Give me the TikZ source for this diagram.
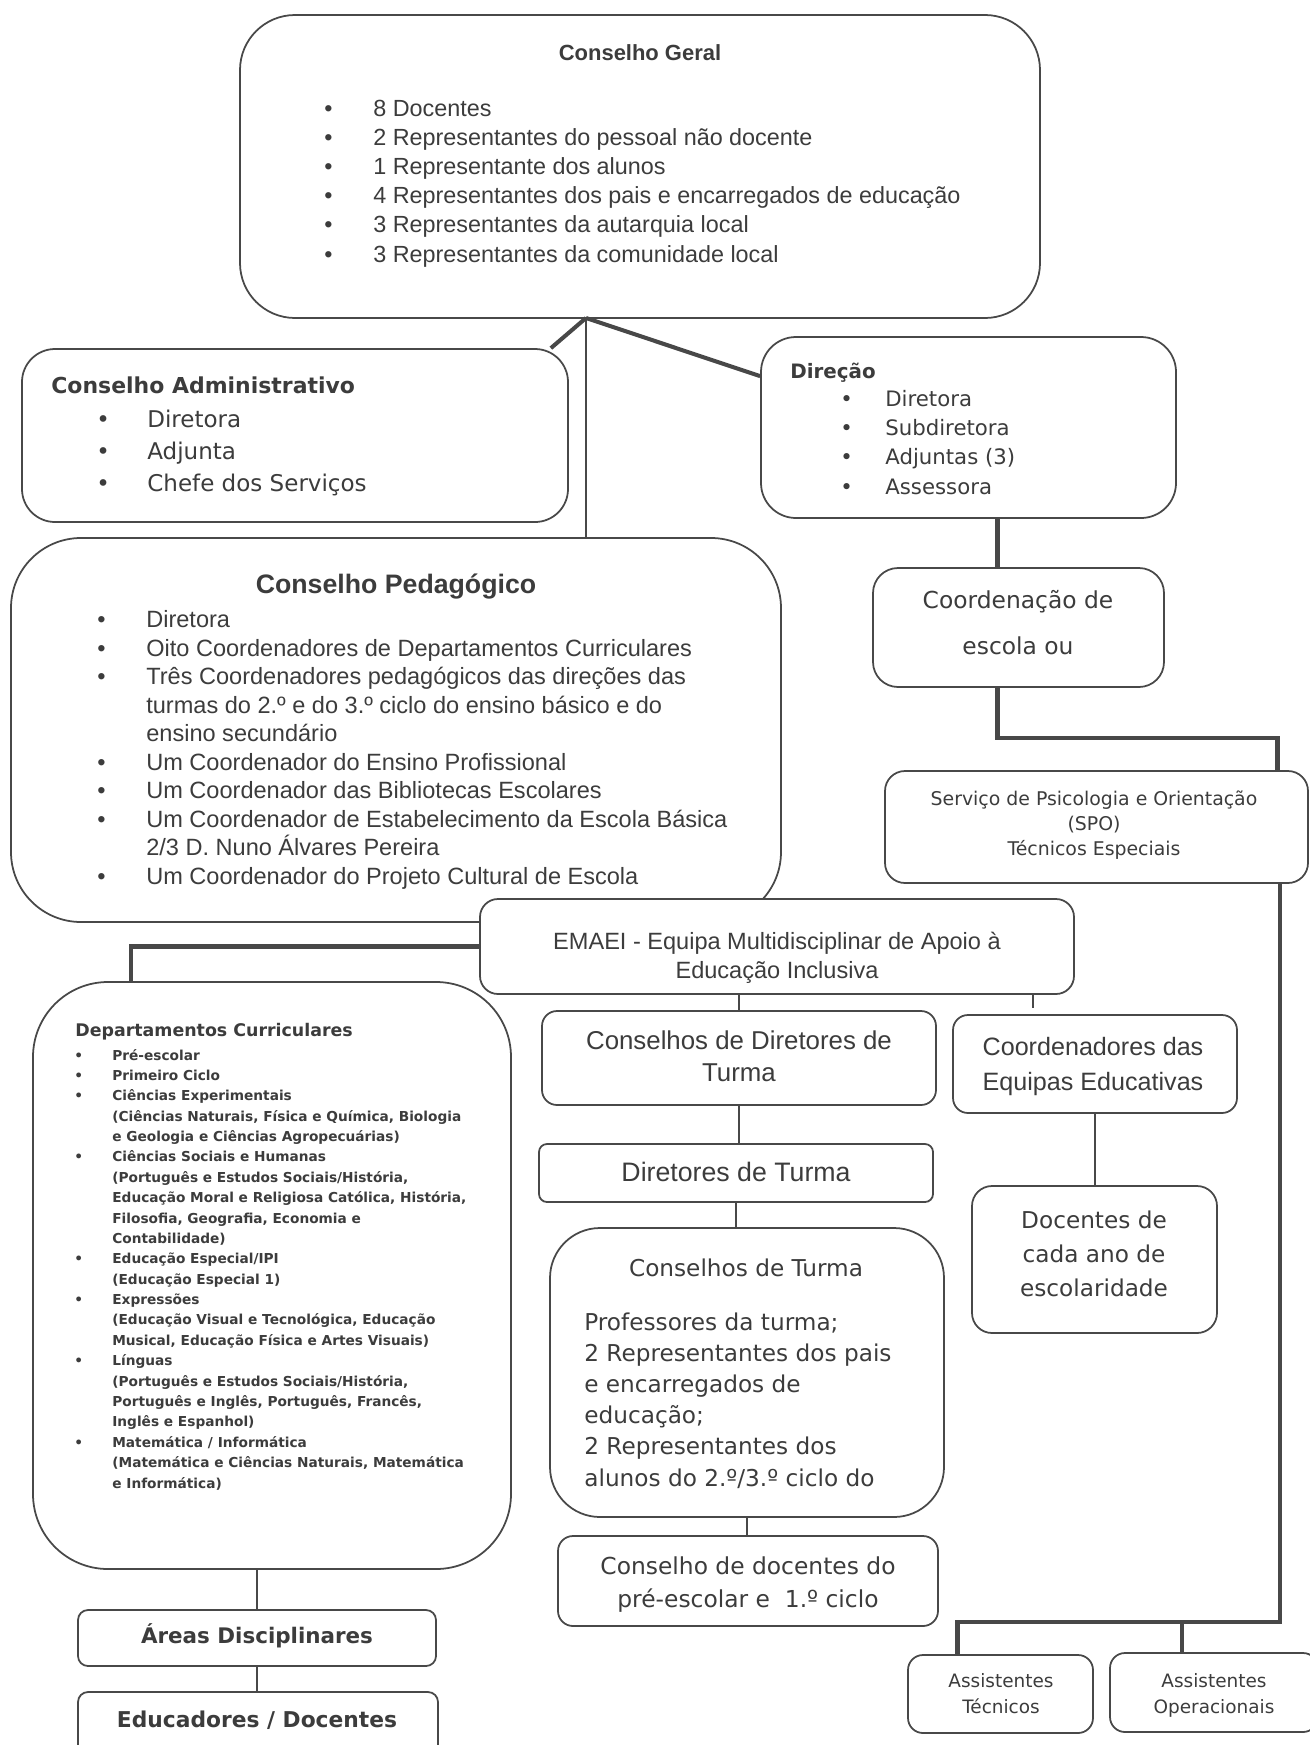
\documentclass[tikz,border=0pt]{standalone}
\usepackage{fontspec}
\setmainfont{Liberation Sans}
\newfontfamily\vfont{DejaVu Sans}
\usepackage{tikz}
\usetikzlibrary{positioning,calc}

\definecolor{ink}{HTML}{3C3C3C}
\definecolor{rule}{HTML}{484848}
\newdimen\pxu \pxu=0.02cm
\newcommand{\bitem}[1]{\makebox[#1\pxu][l]{\textbullet}}
\newcommand{\bskip}[1]{\hspace*{#1\pxu}}
\newcommand{\fsz}[2]{\fontsize{#1}{#2}\selectfont}

\begin{document}
\begin{tikzpicture}[
    x=0.02cm, y=-0.02cm,
    box/.style={rectangle, draw=rule, fill=white, line width=1pt, inner sep=0pt},
    txt/.style={inner sep=0pt, text=ink, align=left, anchor=base west},
    ctxt/.style={inner sep=0pt, text=ink, align=center, anchor=base},
    thickline/.style={draw=rule, line width=2.3pt},
    midline/.style={draw=rule, line width=1.5pt},
    thinline/.style={draw=rule, line width=1pt}
]
    \useasboundingbox (0,0) rectangle (1310,1745);

    % boxes
    \node[box, minimum width=800\pxu, minimum height=303\pxu, rounded corners=55\pxu] (geral) at (640,166.5) {};
    \node[box, minimum width=546\pxu, minimum height=173\pxu, rounded corners=33\pxu] (admin) at (295,435.5) {};
    \node[box, minimum width=415\pxu, minimum height=181\pxu, rounded corners=35\pxu] (direcao) at (968.5,427.5) {};
    \node[box, minimum width=770\pxu, minimum height=384\pxu, rounded corners=70\pxu] (pedag) at (396,730) {};
    \node[box, minimum width=291\pxu, minimum height=119\pxu, rounded corners=25\pxu] (coord) at (1018.5,627.5) {};
    \node[box, minimum width=423\pxu, minimum height=112\pxu, rounded corners=20\pxu] (spo) at (1096.5,827) {};
    \node[box, minimum width=594\pxu, minimum height=95\pxu, rounded corners=18\pxu] (emaei) at (777,946.5) {};
    \node[box, minimum width=478\pxu, minimum height=587\pxu, rounded corners=75\pxu] (dep) at (272,1275.5) {};
    \node[box, minimum width=394\pxu, minimum height=94\pxu, rounded corners=15\pxu] (consdir) at (739,1058) {};
    \node[box, minimum width=394\pxu, minimum height=58\pxu, rounded corners=8\pxu] (dirturma) at (736,1173) {};
    \node[box, minimum width=394\pxu, minimum height=289\pxu, rounded corners=50\pxu] (consturma) at (747,1372.5) {};
    \node[box, minimum width=380\pxu, minimum height=90\pxu, rounded corners=15\pxu] (consdoc) at (748,1581) {};
    \node[box, minimum width=284\pxu, minimum height=98\pxu, rounded corners=15\pxu] (coordeq) at (1095,1064) {};
    \node[box, minimum width=245\pxu, minimum height=147\pxu, rounded corners=20\pxu] (docentes) at (1094.5,1259.5) {};
    \node[box, minimum width=358\pxu, minimum height=56\pxu, rounded corners=10\pxu] (areas) at (257,1638) {};
    \node[box, minimum width=360\pxu, minimum height=78\pxu, rounded corners=10\pxu] (educ) at (258,1731) {};
    \node[box, minimum width=185\pxu, minimum height=78\pxu, rounded corners=15\pxu] (asstec) at (1000.5,1694) {};
    \node[box, minimum width=208\pxu, minimum height=79\pxu, rounded corners=15\pxu] (assop) at (1214,1692.5) {};

    % texts (multi-line nodes sit on their last baseline)
    \node[ctxt, font=\fsz{12.5}{15}\bfseries] (geraltitle) at (640,60) {Conselho Geral};
    \node[txt, font=\fsz{13.3}{16.55}] (geralitems) at (324,262) {\bitem{49}8 Docentes\\
        \bitem{49}2 Representantes do pessoal não docente\\
        \bitem{49}1 Representante dos alunos\\
        \bitem{49}4 Representantes dos pais e encarregados de educação\\
        \bitem{49}3 Representantes da autarquia local\\
        \bitem{49}3 Representantes da comunidade local};

    \node[txt, font=\fsz{12.5}{15}\vfont\bfseries] (admintitle) at (51,393) {Conselho Administrativo};
    \node[txt, font=\fsz{13.1}{18.1}\vfont] (adminitems) at (96,491) {\bitem{51}Diretora\\
        \bitem{51}Adjunta\\
        \bitem{51}Chefe dos Serviços};

    \node[txt, font=\fsz{11.3}{14}\vfont\bfseries] (direcaotitle) at (790,378) {Direção};
    \node[txt, font=\fsz{12.1}{16.6}\vfont] (direcaoitems) at (840,494) {\bitem{45}Diretora\\
        \bitem{45}Subdiretora\\
        \bitem{45}Adjuntas (3)\\
        \bitem{45}Assessora};

    \node[ctxt, font=\fsz{15.2}{18}\bfseries] (pedagtitle) at (396,593) {Conselho Pedagógico};
    \node[txt, font=\fsz{13.4}{16.2}] (pedagitems) at (97,884) {\bitem{49}Diretora\\
        \bitem{49}Oito Coordenadores de Departamentos Curriculares\\
        \bitem{49}Três Coordenadores pedagógicos das direções das\\
        \bskip{49}turmas do 2.º e do 3.º ciclo do ensino básico e do\\
        \bskip{49}ensino secundário\\
        \bitem{49}Um Coordenador do Ensino Profissional\\
        \bitem{49}Um Coordenador das Bibliotecas Escolares\\
        \bitem{49}Um Coordenador de Estabelecimento da Escola Básica\\
        \bskip{49}2/3 D. Nuno Álvares Pereira\\
        \bitem{49}Um Coordenador do Projeto Cultural de Escola};

    \node[ctxt, font=\fsz{13.3}{26.1}\vfont] (coordtxt) at (1018,654) {Coordenação de\\escola ou};
    \node[ctxt, font=\fsz{10.75}{14.2}\vfont] (spotxt) at (1094,855) {Serviço de Psicologia e Orientação\\(SPO)\\Técnicos Especiais};
    \node[ctxt, font=\fsz{13.4}{16.4}] (emaeitxt) at (777,978) {EMAEI - Equipa Multidisciplinar de Apoio à\\Educação Inclusiva};

    \node[txt, font=\fsz{9.9}{11}\vfont\bfseries] (deptitle) at (75,1036) {Departamentos Curriculares};
    \node[txt, font=\fsz{7.8}{11.6}\vfont\bfseries] (depitems) at (74,1488) {\bitem{38}Pré-escolar\\
        \bitem{38}Primeiro Ciclo\\
        \bitem{38}Ciências Experimentais\\
        \bskip{38}(Ciências Naturais, Física e Química, Biologia\\
        \bskip{38}e Geologia e Ciências Agropecuárias)\\
        \bitem{38}Ciências Sociais e Humanas\\
        \bskip{38}(Português e Estudos Sociais/História,\\
        \bskip{38}Educação Moral e Religiosa Católica, História,\\
        \bskip{38}Filosofia, Geografia, Economia e\\
        \bskip{38}Contabilidade)\\
        \bitem{38}Educação Especial/IPI\\
        \bskip{38}(Educação Especial 1)\\
        \bitem{38}Expressões\\
        \bskip{38}(Educação Visual e Tecnológica, Educação\\
        \bskip{38}Musical, Educação Física e Artes Visuais)\\
        \bitem{38}Línguas\\
        \bskip{38}(Português e Estudos Sociais/História,\\
        \bskip{38}Português e Inglês, Português, Francês,\\
        \bskip{38}Inglês e Espanhol)\\
        \bitem{38}Matemática / Informática\\
        \bskip{38}(Matemática e Ciências Naturais, Matemática\\
        \bskip{38}e Informática)};

    \node[ctxt, font=\fsz{14.7}{18.1}] (consdirtxt) at (739,1081) {Conselhos de Diretores de\\Turma};
    \node[ctxt, font=\fsz{15.2}{18}] (dirturmatxt) at (736,1181) {Diretores de Turma};
    \node[ctxt, font=\fsz{13.2}{16}\vfont] (consturmatitle) at (746,1276) {Conselhos de Turma};
    \node[txt, font=\fsz{13.2}{17.7}\vfont] (consturmatxt) at (584,1486) {Professores da turma;\\
        2 Representantes dos pais\\
        e encarregados de\\
        educação;\\
        2 Representantes dos\\
        alunos do 2.º/3.º ciclo do};
    \node[ctxt, font=\fsz{13.3}{18.7}\vfont] (consdoctxt) at (748,1607) {Conselho de docentes do\\pré-escolar e\ \ 1.º ciclo};
    \node[ctxt, font=\fsz{14.3}{19.8}] (coordeqtxt) at (1093,1090) {Coordenadores das\\Equipas Educativas};
    \node[ctxt, font=\fsz{13.2}{19.3}\vfont] (docentestxt) at (1094,1296) {Docentes de\\cada ano de\\escolaridade};
    \node[ctxt, font=\fsz{12.2}{14}\vfont\bfseries] (areastxt) at (257,1643) {Áreas Disciplinares};
    \node[ctxt, font=\fsz{12.4}{14}\vfont\bfseries] (eductxt) at (257,1727) {Educadores / Docentes};
    \node[ctxt, font=\fsz{10.5}{14.7}\vfont] (asstectxt) at (1001,1713) {Assistentes\\Técnicos};
    \node[ctxt, font=\fsz{10.5}{14.7}\vfont] (assoptxt) at (1214,1713) {Assistentes\\Operacionais};

    % connectors
    \coordinate (hub) at (586,318);
    \draw[thickline] (hub) -- ([xshift=-18\pxu]admin.north east);
    \draw[thickline] (hub) -- ([yshift=-40\pxu]direcao.north west);
    \draw[thinline] (hub) -- (hub |- pedag.north);
    \draw[thickline] ([xshift=-21\pxu]coord.north) -- ([xshift=-21\pxu]coord.north |- direcao.south);
    \draw[thickline] ([xshift=-21\pxu]coord.south) -- ++(0,50) -| ([xshift=181\pxu]spo.north);
    \coordinate (split) at (1280,1622);
    \draw[thickline] (split |- spo.south) -- (split) -| ([xshift=-43\pxu]asstec.north);
    \draw[thickline] ([xshift=-32\pxu]assop.north) -- ([xshift=-32\pxu]assop.north |- split);
    \draw[thickline] (emaei.west) -| ([xshift=-141\pxu]dep.north);
    \draw[midline] (consdir.north) -- (consdir.north |- emaei.south);
    \coordinate (emaeistub) at (1033,1008);
    \draw[midline] (emaeistub |- emaei.south) -- (emaeistub);
    \draw[thinline] (consdir.south) -- (consdir.south |- dirturma.north);
    \draw[thinline] (dirturma.south) -- (dirturma.south |- consturma.north);
    \draw[thinline] (consturma.south) -- (consturma.south |- consdoc.north);
    \draw[midline] (coordeq.south) -- (coordeq.south |- docentes.north);
    \draw[thinline] (areas.north) -- (areas.north |- dep.south);
    \draw[thinline] (areas.south) -- (areas.south |- educ.north);
\end{tikzpicture}
\end{document}
